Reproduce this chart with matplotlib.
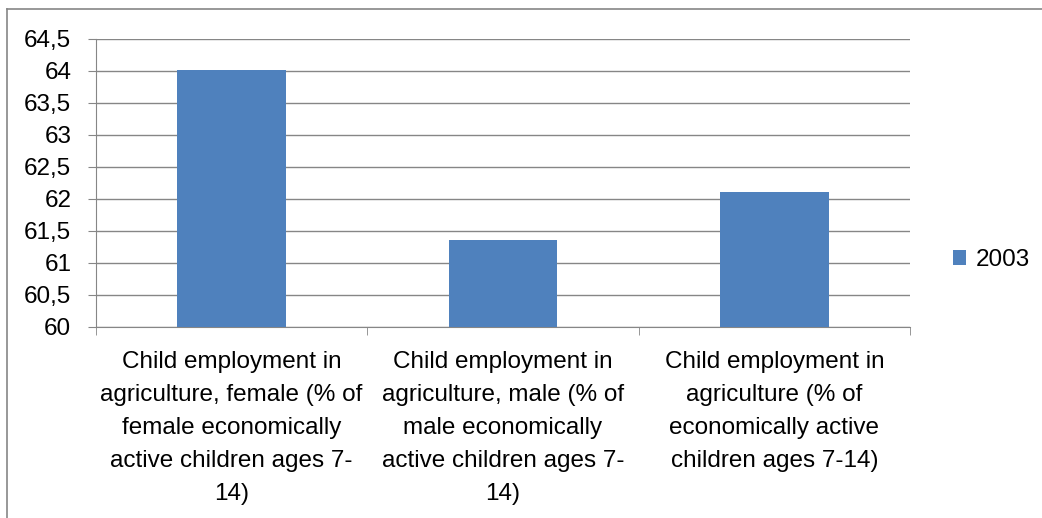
import matplotlib.pyplot as plt
from matplotlib.lines import Line2D

# data
categories = [
    "Child employment in\nagriculture, female (% of\nfemale economically\nactive children ages 7-\n14)",
    "Child employment in\nagriculture, male (% of\nmale economically\nactive children ages 7-\n14)",
    "Child employment in\nagriculture (% of\neconomically active\nchildren ages 7-14)",
]
values_2003 = [64.02, 61.36, 62.11]
series_name = "2003"
yticks = [60, 60.5, 61, 61.5, 62, 62.5, 63, 63.5, 64, 64.5]
ytick_labels = ["60", "60,5", "61", "61,5", "62", "62,5", "63", "63,5", "64", "64,5"]

plt.rcParams['font.family'] = ['Liberation Sans', 'DejaVu Sans']
W, H = 1042, 518
fig = plt.figure(figsize=(W / 100, H / 100), dpi=100)
ax = fig.add_axes([96 / W, 1 - 327 / H, (910 - 96) / W, (327 - 39) / H])

grid_col = '#868686'
x = list(range(len(categories)))
bars = ax.bar(x, [v - 60 for v in values_2003], bottom=60, width=0.4,
              color='#4F81BD', label=series_name, zorder=3)

ax.set_xlim(-0.5, len(categories) - 0.5)
ax.set_ylim(60, 64.5)
ax.set_yticks(yticks)
ax.set_yticklabels(ytick_labels, fontsize=17.5)
ax.yaxis.grid(True, color=grid_col, linewidth=1, zorder=0)
ax.tick_params(axis='y', length=5.8, color=grid_col, pad=12, direction='out')

# category separators as minor ticks, labels drawn as text (for line spacing)
ax.set_xticks([i - 0.5 for i in range(len(categories) + 1)], minor=True)
ax.set_xticks([])
ax.tick_params(axis='x', which='minor', length=6, color=grid_col)
for xi, lab in zip(x, categories):
    ax.annotate(lab, xy=(xi, 0), xycoords=('data', 'axes fraction'),
                xytext=(0, -17), textcoords='offset points',
                ha='center', va='top', fontsize=17.5, linespacing=1.65)

for side in ['top', 'right']:
    ax.spines[side].set_visible(False)
ax.spines['left'].set_color(grid_col)
ax.spines['bottom'].set_color(grid_col)

# legend on the right
fig.legend(handles=[bars], labels=[series_name], loc='center left',
           bbox_to_anchor=(931 / W, 1 - 260 / H), frameon=False,
           fontsize=17.5, handlelength=0.55, handleheight=0.55, handletextpad=0.4)

# outer chart border (only top and left edges are visible)
fig.add_artist(Line2D([7 / W, 7 / W], [0, 1 - 9 / H], transform=fig.transFigure,
                      color=grid_col, linewidth=1.2))
fig.add_artist(Line2D([7 / W, 1], [1 - 9 / H, 1 - 9 / H], transform=fig.transFigure,
                      color=grid_col, linewidth=1.2))

fig.savefig('out.png', dpi=100)
